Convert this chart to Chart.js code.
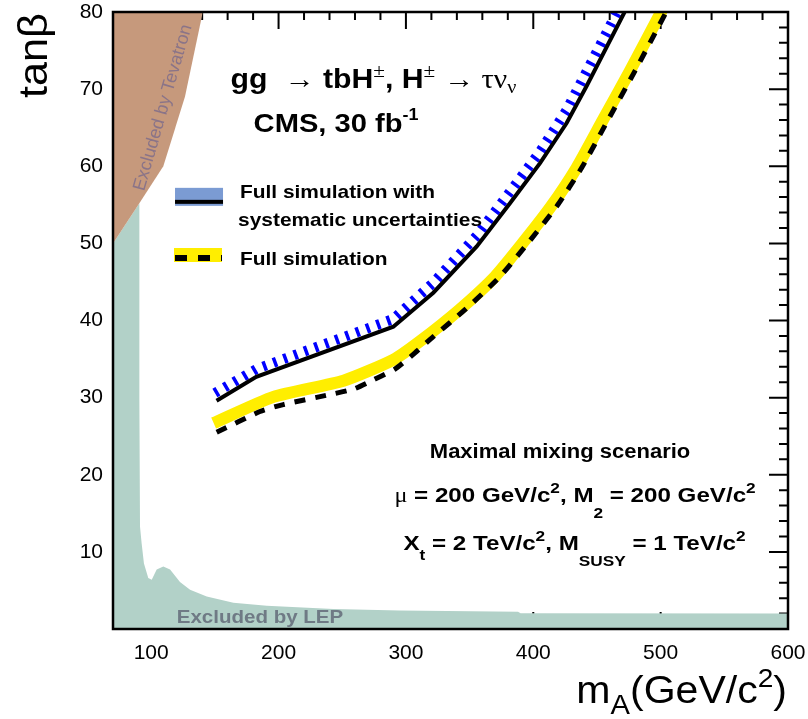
<!DOCTYPE html>
<html>
<head>
<meta charset="utf-8">
<title>CMS charged Higgs reach, tanβ vs mA</title>
<script src="https://cdn.jsdelivr.net/npm/chart.js@4.4.1/dist/chart.umd.min.js"></script>
<style>
  html, body { margin: 0; padding: 0; background: #fff; }
  #wrap { width: 808px; height: 719px; }
</style>
</head>
<body>
<div id="wrap"><canvas id="reach" width="808" height="719"></canvas></div>
<script>
// axis ranges and tick labels
const xRange = [70, 600];
const yRange = [0, 80];
const xTickLabels = [100, 200, 300, 400, 500, 600];
const yTickLabels = [10, 20, 30, 40, 50, 60, 70, 80];

// excluded by LEP (mA, tanβ)
const lepMA   = [70, 90.7, 90.7, 91.2, 92.5, 94.3, 97.7, 100.4, 104.3, 109.5, 114.8, 122.6, 130.5, 143.6, 164.5, 190.7, 243, 295, 388, 390, 600];
const lepTanB = [50, 55.2, 30.0, 13.3, 11.1, 8.5, 6.6, 6.4, 7.7, 8.1, 7.7, 6.1, 5.1, 4.2, 3.4, 3.0, 2.6, 2.4, 2.25, 2.05, 2.0];

// excluded by Tevatron
const tevMA   = [70, 90.7, 109.5, 126.5, 140.5];
const tevTanB = [50, 55.2, 60.0, 69.0, 80.0];

// full simulation with systematic uncertainties: solid line and its hatched side
const sysMA       = [151.3, 182.5, 290.1, 321.5, 355.6, 381.7, 405.3, 426.2, 441.9, 472.0];
const sysTanB     = [29.6, 32.7, 39.2, 43.6, 49.6, 55.2, 60.4, 65.6, 70.4, 80.1];
const sysHatchMA   = [150.0, 182.5, 290.1, 321.5, 355.6, 381.7, 405.3, 426.2, 441.9, 472.0];
const sysHatchTanB = [30.6, 33.7, 40.2, 44.9, 51.0, 56.7, 61.9, 67.3, 72.3, 82.0];

// full simulation: dashed line and yellow band
const simMA   = [151.4, 185.4, 203.7, 240.4, 258.7, 274.4, 291.4, 307.1, 321.5, 346.4, 373.9, 396.1, 418.4, 438.0, 458.0, 480.0, 505.0];
const simTanB = [25.5, 28.2, 29.1, 30.4, 31.1, 32.3, 33.7, 35.8, 37.9, 41.4, 45.7, 50.1, 54.8, 59.8, 65.8, 72.4, 80.2];
const simBandMA   = [149, 196, 251, 290, 311, 342, 370, 392, 414, 434, 454, 476, 501];
const simBandTanB = [26.7, 30.1, 32.2, 34.9, 37.3, 41.4, 45.7, 50.1, 54.8, 59.8, 65.8, 72.4, 80.2];

const pts = (xs, ys) => xs.map((x, i) => ({ x: x, y: ys[i] }));

const SANS = '"Liberation Sans", Arial, sans-serif';
const SERIF = '"Liberation Serif", "Times New Roman", serif';

// text in runs (bold / normal / serif, sub- and superscripts), stretched sideways like the original
function richText(ctx, runs, x, y, size, align, stretch) {
    const fontOf = (r) => (r.b ? 'bold ' : '') + Math.round(size * (r.k || 1)) + 'px ' + (r.s ? SERIF : SANS);
    let total = 0;
    runs.forEach((r) => {
        ctx.font = fontOf(r);
        r.w = ctx.measureText(r.t).width * stretch;
        total += r.w;
    });
    let cx = align === 'center' ? x - total / 2 : (align === 'right' ? x - total : x);
    runs.forEach((r) => {
        ctx.save();
        ctx.font = fontOf(r);
        ctx.textAlign = 'left';
        ctx.textBaseline = 'alphabetic';
        ctx.translate(cx, y + (r.dy || 0));
        ctx.scale(stretch, 1);
        ctx.fillText(r.t, 0, 0);
        ctx.restore();
        cx += r.w;
    });
}
const B = (t, o) => Object.assign({ t: t, b: true }, o || {});
const N = (t, o) => Object.assign({ t: t }, o || {});
const S = (t, o) => Object.assign({ t: t, s: true }, o || {});

const frameDecor = {
    id: 'frameDecor',
    // tick marks point inward and sit under the excluded areas
    beforeDatasetsDraw(chart) {
        const ctx = chart.ctx;
        const a = chart.chartArea;
        const xs = chart.scales.x, ys = chart.scales.y;
        ctx.save();
        ctx.strokeStyle = '#000';
        ctx.lineWidth = 2;
        ctx.beginPath();
        for (let v = 80; v <= xRange[1]; v += 20) {
            const px = xs.getPixelForValue(v);
            const len = xTickLabels.includes(v) ? 17 : 8;
            ctx.moveTo(px, a.top); ctx.lineTo(px, a.top + len);
            ctx.moveTo(px, a.bottom); ctx.lineTo(px, a.bottom - len);
        }
        for (let v = 2; v <= yRange[1]; v += 2) {
            const py = ys.getPixelForValue(v);
            const len = yTickLabels.includes(v) ? 19 : 9;
            ctx.moveTo(a.left, py); ctx.lineTo(a.left + len, py);
            ctx.moveTo(a.right, py); ctx.lineTo(a.right - len, py);
        }
        ctx.stroke();
        ctx.restore();
    },
    afterDatasetsDraw(chart) {
        const ctx = chart.ctx;
        const a = chart.chartArea;
        const xs = chart.scales.x, ys = chart.scales.y;
        const at = (x, y) => [xs.getPixelForValue(x), ys.getPixelForValue(y)];

        ctx.save();
        // frame
        ctx.strokeStyle = '#000';
        ctx.lineWidth = 2.5;
        ctx.strokeRect(a.left, a.top, a.right - a.left, a.bottom - a.top);

        // region labels
        let p = at(109.3, 67.6);
        ctx.save();
        ctx.translate(p[0], p[1]);
        ctx.rotate(-73.9 * Math.PI / 180);
        ctx.fillStyle = '#8a7488';
        ctx.font = '18px ' + SANS;
        ctx.textAlign = 'center';
        ctx.textBaseline = 'middle';
        ctx.fillText('Excluded by Tevatron', 0, 0);
        ctx.restore();

        ctx.fillStyle = '#6f7a85';
        p = at(185.4, 0.82);
        richText(ctx, [B('Excluded by LEP')], p[0], p[1], 19, 'center', 1.08);

        // titles
        ctx.fillStyle = '#000';
        p = at(274.5, 70.2);
        richText(ctx, [B('gg'), B('  '), S('\u2192'), B(' tbH'), S('\u00b1', { k: 0.7, dy: -11 }),
            B(', H'), S('\u00b1', { k: 0.7, dy: -11 }), B(' '), S('\u2192 \u03c4\u03bd'), S('\u03bd', { k: 0.65, dy: 5 })],
            p[0], p[1], 27, 'center', 1.12);
        p = at(245.1, 64.4);
        richText(ctx, [B('CMS, 30 fb'), B('-1', { k: 0.62, dy: -12 })], p[0], p[1], 26, 'center', 1.12);

        // legend
        p = at(118.7, 57.2);
        ctx.fillStyle = '#7b9bd3';
        ctx.fillRect(p[0], p[1], 48, 18);
        ctx.fillStyle = '#000';
        ctx.fillRect(p[0], p[1] + 12, 48, 4);
        p = at(117.9, 49.4);
        ctx.fillStyle = '#ffee00';
        ctx.fillRect(p[0], p[1], 48, 14);
        ctx.strokeStyle = '#000';
        ctx.lineWidth = 6;
        ctx.setLineDash([12, 11]);
        ctx.beginPath();
        ctx.moveTo(p[0] + 1, p[1] + 10);
        ctx.lineTo(p[0] + 48, p[1] + 10);
        ctx.stroke();
        ctx.setLineDash([]);

        ctx.fillStyle = '#000';
        p = at(169.7, 55.9);
        richText(ctx, [B('Full simulation with')], p[0], p[1], 19, 'left', 1.1);
        p = at(168.2, 52.2);
        richText(ctx, [B('systematic uncertainties')], p[0], p[1], 19, 'left', 1.1);
        p = at(169.7, 47.2);
        richText(ctx, [B('Full simulation')], p[0], p[1], 19, 'left', 1.1);

        // scenario
        p = at(421, 22.2);
        richText(ctx, [B('Maximal mixing scenario')], p[0], p[1], 20, 'center', 1.1);
        p = at(432.8, 16.5);
        richText(ctx, [S('\u03bc'), B(' = 200 GeV/c'), B('2', { k: 0.7, dy: -9 }), B(', M'), B('2', { k: 0.7, dy: 16 }),
            B(' = 200 GeV/c'), B('2', { k: 0.7, dy: -9 })], p[0], p[1], 21, 'center', 1.15);
        p = at(432.4, 10.25);
        richText(ctx, [B('X'), B('t', { k: 0.7, dy: 10 }), B(' = 2 TeV/c'), B('2', { k: 0.7, dy: -9 }), B(', M'),
            B('SUSY', { k: 0.7, dy: 16 }), B(' = 1 TeV/c'), B('2', { k: 0.7, dy: -9 })], p[0], p[1], 21, 'center', 1.15);

        // axis titles
        ctx.save();
        ctx.translate(a.left - 66, a.top + 86);
        ctx.rotate(-Math.PI / 2);
        richText(ctx, [N('tan\u03b2')], 0, 0, 40, 'left', 1.08);
        ctx.restore();
        richText(ctx, [N('m'), N('A', { k: 0.7, dy: 11 }), N('(GeV/c'), N('2', { k: 0.68, dy: -16 }), N(')')],
            a.right - 1, a.bottom + 74, 38, 'right', 1.08);
        ctx.restore();
    }
};

const lineDefaults = { showLine: true, pointRadius: 0, fill: false, clip: 0, tension: 0 };

// keep the plot frame where the original has it: no extra room for the edge tick labels
const noLabelPadding = (s) => { s.paddingTop = 0; s.paddingBottom = 0; s.paddingLeft = 0; s.paddingRight = 0; };

new Chart(document.getElementById('reach'), {
    type: 'scatter',
    data: {
        datasets: [
            Object.assign({}, lineDefaults, {
                label: 'Excluded by LEP', data: pts(lepMA, lepTanB), order: 6,
                fill: 'start', backgroundColor: '#b2d1c8', borderColor: 'rgba(0,0,0,0)', borderWidth: 0
            }),
            Object.assign({}, lineDefaults, {
                label: 'Excluded by Tevatron', data: pts(tevMA, tevTanB), order: 5,
                fill: 'end', backgroundColor: '#c6997c', borderColor: 'rgba(0,0,0,0)', borderWidth: 0
            }),
            Object.assign({}, lineDefaults, {
                label: 'Full simulation (band)', data: pts(simBandMA, simBandTanB), order: 4,
                borderColor: '#ffee00', borderWidth: 12, borderJoinStyle: 'round', tension: 0.2
            }),
            Object.assign({}, lineDefaults, {
                label: 'Full simulation', data: pts(simMA, simTanB), order: 3,
                borderColor: '#000', borderWidth: 5, borderDash: [11, 10], tension: 0.2
            }),
            Object.assign({}, lineDefaults, {
                label: 'Systematic uncertainties (hatch)', data: pts(sysHatchMA, sysHatchTanB), order: 2,
                borderColor: '#0000ff', borderWidth: 10, borderDash: [3.5, 7.5]
            }),
            Object.assign({}, lineDefaults, {
                label: 'Full simulation with systematic uncertainties', data: pts(sysMA, sysTanB), order: 1,
                borderColor: '#000', borderWidth: 4
            })
        ]
    },
    options: {
        responsive: false,
        animation: false,
        layout: { padding: { top: 12, right: 20, bottom: 0, left: 0 } },
        plugins: {
            legend: { display: false },
            tooltip: { enabled: false }
        },
        scales: {
            x: {
                type: 'linear',
                min: xRange[0],
                max: xRange[1],
                grid: { display: false, drawTicks: false },
                border: { display: false },
                ticks: { color: '#000', font: { family: 'Liberation Sans', size: 21 }, padding: 12, maxRotation: 0, autoSkip: false },
                afterBuildTicks: (s) => { s.ticks = xTickLabels.map((v) => ({ value: v })); },
                afterFit: (s) => { s.height = 90; noLabelPadding(s); }
            },
            y: {
                type: 'linear',
                min: yRange[0],
                max: yRange[1],
                grid: { display: false, drawTicks: false },
                border: { display: false },
                ticks: { color: '#000', font: { family: 'Liberation Sans', size: 21 }, padding: 10, autoSkip: false },
                afterBuildTicks: (s) => { s.ticks = yTickLabels.map((v) => ({ value: v })); },
                afterFit: (s) => { s.width = 113; noLabelPadding(s); }
            }
        }
    },
    plugins: [frameDecor]
});
</script>
</body>
</html>
